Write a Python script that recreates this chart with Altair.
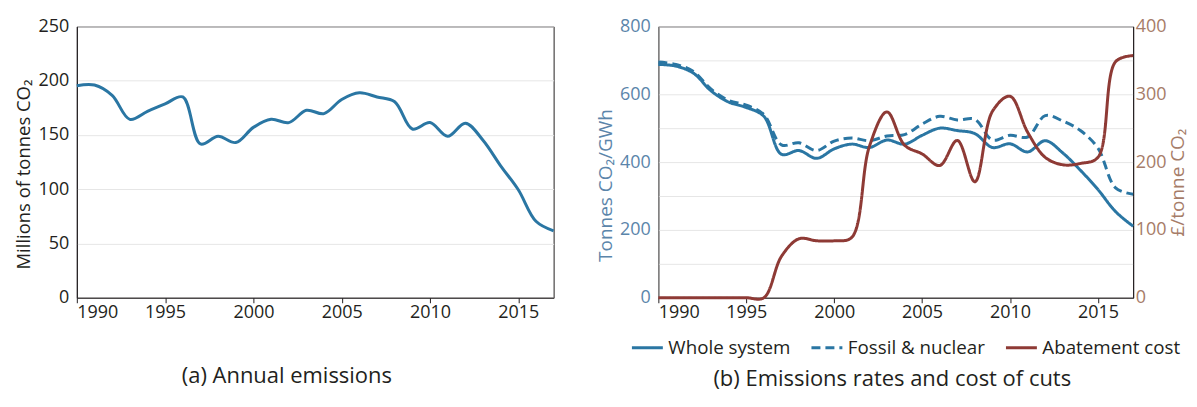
import altair as alt
import pandas as pd

years = list(range(1990, 2018))

# (a) annual emissions, millions of tonnes CO2
annual = [195.4, 196.0, 186.5, 164.4, 171.8, 178.6, 185.0, 141.7, 148.8, 143.0,
          157.0, 164.4, 161.4, 172.7, 169.7, 182.7, 188.9, 185.0, 180.6, 155.5,
          161.4, 148.8, 160.9, 145.2, 121.6, 99.5, 70.5, 61.7]

# (b) emissions rates, tonnes CO2/GWh
whole = [688, 683, 662, 610, 577, 561, 535, 423, 434, 411,
         439, 453, 443, 465, 453, 479, 500, 493, 484, 443,
         454, 430, 463, 427, 376, 319, 254, 211]
fossil = [695, 688, 667, 615, 582, 568, 540, 451, 457, 434,
          462, 471, 463, 477, 481, 512, 535, 524, 526, 465,
          479, 474, 537, 521, 493, 441, 324, 305]

# (b) abatement cost, pounds per tonne CO2
cost = [0, 0, 0, 0, 0, 0, 0, 61, 87, 84,
        84, 89, 223, 274, 225, 212, 195, 232, 171, 275,
        297, 244, 207, 196, 198, 207, 348, 357]

series_names = ['Whole system', 'Fossil & nuclear', 'Abatement cost']
series_colors = ['#2a76a3', '#2a76a3', '#8e3a35']
series_dash = [[1, 0], [9, 5], [1, 0]]

df_annual = pd.DataFrame({'year': years, 'value': annual})
df_rates = pd.DataFrame({
    'year': years + years,
    'value': whole + fossil,
    'series': [series_names[0]] * len(years) + [series_names[1]] * len(years),
})
df_cost = pd.DataFrame({'year': years, 'value': cost, 'series': series_names[2]})

INK = '#231f20'
FONT = 'Open Sans'

x_enc = alt.X('year:Q', scale=alt.Scale(domain=[1990, 2017], nice=False, zero=False),
              axis=alt.Axis(values=list(range(1990, 2016, 5)), format='d', title=None,
                            grid=False, tickSize=5, labelPadding=1))

left = alt.Chart(df_annual).mark_line(interpolate='catmull-rom', strokeWidth=3, color='#2a76a3').encode(
    x=x_enc,
    y=alt.Y('value:Q', scale=alt.Scale(domain=[0, 250], nice=False),
            axis=alt.Axis(values=[0, 50, 100, 150, 200, 250], title='Millions of tonnes CO₂',
                          ticks=False, labelPadding=8, titlePadding=5, titleY=148))
).properties(
    width=478, height=272,
    title=alt.TitleParams('(a) Annual emissions', orient='bottom', anchor='middle', frame='bounds',
                          offset=44, fontSize=22, fontWeight='normal', color=INK)
)

# first entry gets a little trailing room, the gap after it is wider in the original
legend = alt.Legend(orient='none', legendX=-28, legendY=305, direction='horizontal', title=None,
                    symbolType='stroke', symbolSize=961, symbolStrokeWidth=3, labelFontSize=18.8,
                    labelOffset=4, columnPadding=14, labelColor=INK, labelFont=FONT,
                    labelExpr="datum.label == 'Whole system' ? datum.label + '\u00a0\u00a0\u00a0' : datum.label")
color_enc = alt.Color('series:N', scale=alt.Scale(domain=series_names, range=series_colors),
                      legend=legend, title=None)
dash_enc = alt.StrokeDash('series:N', scale=alt.Scale(domain=series_names, range=series_dash),
                          legend=legend, title=None)

rates = alt.Chart(df_rates).mark_line(interpolate='catmull-rom', strokeWidth=3).encode(
    x=x_enc,
    y=alt.Y('value:Q', scale=alt.Scale(domain=[0, 800], nice=False),
            axis=alt.Axis(values=list(range(0, 801, 100)),
                          labelExpr="datum.value % 200 == 0 ? datum.label : ''",
                          title='Tonnes CO₂/GWh', ticks=False, labelPadding=8, titlePadding=4,
                          titleY=159, titleFontSize=19,
                          labelColor='#5b85aa', titleColor='#5b85aa', domainColor='#8c8c8c')),
    color=color_enc,
    strokeDash=dash_enc,
)

abatement = alt.Chart(df_cost).mark_line(interpolate='catmull-rom', strokeWidth=3).encode(
    x=x_enc,
    y=alt.Y('value:Q', scale=alt.Scale(domain=[0, 400], nice=False),
            axis=alt.Axis(orient='right', values=[0, 100, 200, 300, 400], title='£/tonne CO₂',
                          grid=False, ticks=False, labelPadding=2, titlePadding=3,
                          titleAngle=270, titleBaseline='top', titleY=156, titleFontSize=19,
                          labelColor='#a67c68', titleColor='#a67c68')),
    color=color_enc,
    strokeDash=dash_enc,
)

right = alt.layer(rates, abatement).resolve_scale(y='independent').properties(
    width=476, height=272,
    title=alt.TitleParams('(b) Emissions rates and cost of cuts', orient='bottom', anchor='middle',
                          frame='bounds', offset=11, fontSize=22, fontWeight='normal', color=INK)
)

chart = alt.hconcat(left, right, spacing=35).resolve_legend(
    color='independent', strokeDash='independent'
).properties(
    padding={'left': 5, 'right': 0, 'top': 8, 'bottom': 0}
).configure_axis(
    labelFont=FONT, labelFontSize=18, labelColor=INK,
    titleFont=FONT, titleFontSize=18.5, titleFontWeight='normal', titleColor=INK,
    gridColor='#e6e6e6', domainColor=INK, tickColor=INK
).configure_view(
    stroke=INK, strokeWidth=1
).configure_title(
    font=FONT
)

chart.save('out.html', embed_options={'renderer': 'svg', 'actions': False})
